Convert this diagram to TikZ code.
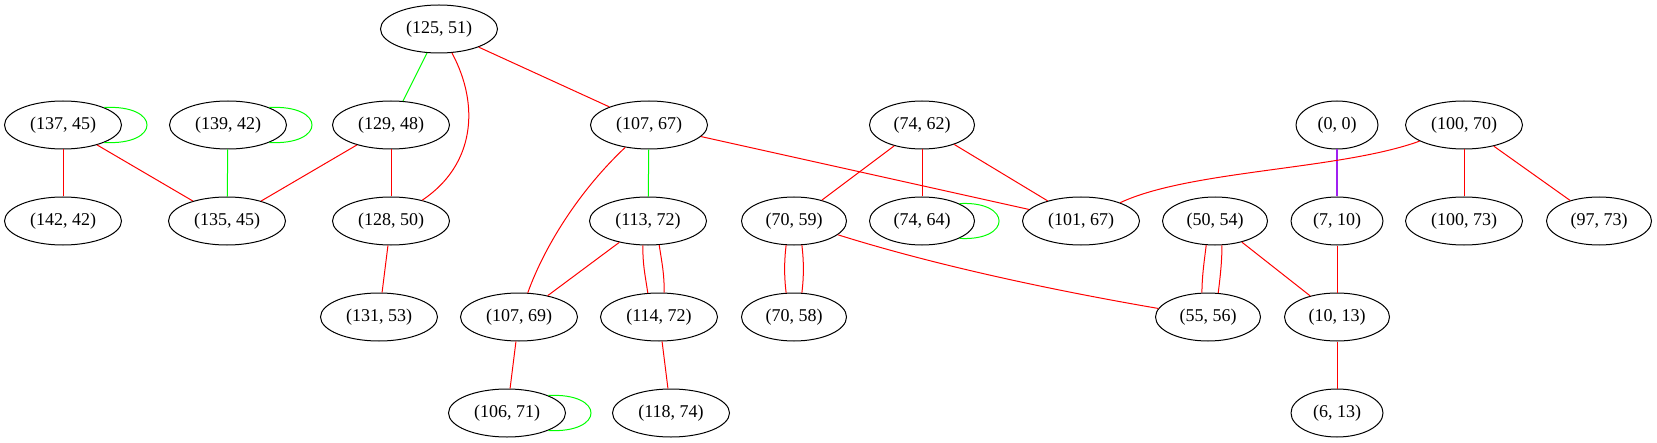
\documentclass[tikz,border=0pt]{standalone}
\usepackage{fontspec}
\setmainfont{Liberation Serif}
\usetikzlibrary{shapes.geometric}
\definecolor{gvred}{HTML}{FF0000}
\definecolor{gvgreen}{HTML}{00FF00}
\definecolor{gvpurple}{HTML}{A020F0}
\begin{document}
\begin{tikzpicture}[x=0.5pt,y=-0.5pt,
  gv/.style={ellipse,draw=black,line width=0.5pt,inner sep=0pt,minimum height=24pt,font=\fontsize{9}{10}\selectfont},
  wA/.style={gv,minimum width=58.5pt},
  wB/.style={gv,minimum width=52.5pt},
  wC/.style={gv,minimum width=46pt},
  wD/.style={gv,minimum width=41pt},
  redge/.style={draw=gvred,line width=0.5pt},
  gedge/.style={draw=gvgreen,line width=0.5pt},
  pedge/.style={draw=gvpurple,line width=0.6pt}]
\path[use as bounding box] (0,0) rectangle (1657,443);
% row 1
\node[wA] (n12551) at (439,29) {(125, 51)};
% row 2
\node[wA] (n13745) at (63,125) {(137, 45)};
\node[wA] (n13942) at (228,125) {(139, 42)};
\node[wA] (n12948) at (391,125) {(129, 48)};
\node[wA] (n10767) at (649,125) {(107, 67)};
\node[wB] (n7462) at (922,125) {(74, 62)};
\node[wD] (n00) at (1337,125) {(0, 0)};
\node[wA] (n10070) at (1464,125) {(100, 70)};
% row 3
\node[wA] (n14242) at (63,221) {(142, 42)};
\node[wA] (n13545) at (227,221) {(135, 45)};
\node[wA] (n12850) at (391,221) {(128, 50)};
\node[wA] (n11372) at (648,221) {(113, 72)};
\node[wB] (n7059) at (794,221) {(70, 59)};
\node[wB] (n7464) at (922,221) {(74, 64)};
\node[wA] (n10167) at (1081,221) {(101, 67)};
\node[wB] (n5054) at (1215,221) {(50, 54)};
\node[wC] (n710) at (1337,221) {(7, 10)};
\node[wA] (n10073) at (1464,221) {(100, 73)};
\node[wB] (n9773) at (1599,221) {(97, 73)};
% row 4
\node[wA] (n13153) at (379,317) {(131, 53)};
\node[wA] (n10769) at (519,317) {(107, 69)};
\node[wA] (n11472) at (659,317) {(114, 72)};
\node[wB] (n7058) at (794,317) {(70, 58)};
\node[wB] (n5556) at (1208,317) {(55, 56)};
\node[wB] (n1013) at (1337,317) {(10, 13)};
% row 5
\node[wA] (n10671) at (507,413) {(106, 71)};
\node[wA] (n11874) at (671,413) {(118, 74)};
\node[wC] (n613) at (1337,413) {(6, 13)};
% edges
\draw[gedge] (n12551) -- (n12948);
\draw[redge] (n12551) .. controls (480,105) and (475,165) .. (n12850);
\draw[redge] (n12551) -- (n10767);
\draw[gedge] (n13745.23) .. controls +(57,-3) and +(57,3) .. (n13745.-23);
\draw[redge] (n13745) -- (n14242);
\draw[redge] (n13745) -- (n13545);
\draw[gedge] (n13942.23) .. controls +(57,-3) and +(57,3) .. (n13942.-23);
\draw[gedge] (n13942) -- (n13545);
\draw[redge] (n12948) -- (n13545);
\draw[redge] (n12948) -- (n12850);
\draw[redge] (n12850) -- (n13153);
\draw[gedge] (n10767) -- (n11372);
\draw[redge] (n10767) .. controls (580,190) and (545,245) .. (n10769);
\draw[redge] (n10767) -- (n10167);
\draw[redge] (n11372) -- (n10769);
\draw[redge] (n11372.-102) .. controls +(0,20) and +(-3,-20) .. (n11472.115);
\draw[redge] (n11372.-65) .. controls +(3,20) and +(0,-20) .. (n11472.78);
\draw[redge] (n11472) -- (n11874);
\draw[redge] (n10769) -- (n10671);
\draw[gedge] (n10671.23) .. controls +(57,-3) and +(57,3) .. (n10671.-23);
\draw[redge] (n7462) -- (n7059);
\draw[redge] (n7462) -- (n7464);
\draw[redge] (n7462) -- (n10167);
\draw[gedge] (n7464.25) .. controls +(53,-3) and +(53,3) .. (n7464.-25);
\draw[redge] (n7059.-108) .. controls +(-2,16) and +(-2,-16) .. (n7058.108);
\draw[redge] (n7059.-72) .. controls +(2,16) and +(2,-16) .. (n7058.72);
\draw[redge] (n7059) .. controls (950,270) and (1080,295) .. (n5556);
\draw[pedge] (n00) -- (n710);
\draw[redge] (n10070) .. controls (1340,170) and (1190,170) .. (n10167);
\draw[redge] (n10070) -- (n10073);
\draw[redge] (n10070) -- (n9773);
\draw[redge] (n5054.-110) .. controls +(-2,16) and +(0,-16) .. (n5556.104);
\draw[redge] (n5054.-74) .. controls +(0,16) and +(2,-16) .. (n5556.67);
\draw[redge] (n5054) -- (n1013);
\draw[redge] (n710) -- (n1013);
\draw[redge] (n1013) -- (n613);
\end{tikzpicture}
\end{document}
